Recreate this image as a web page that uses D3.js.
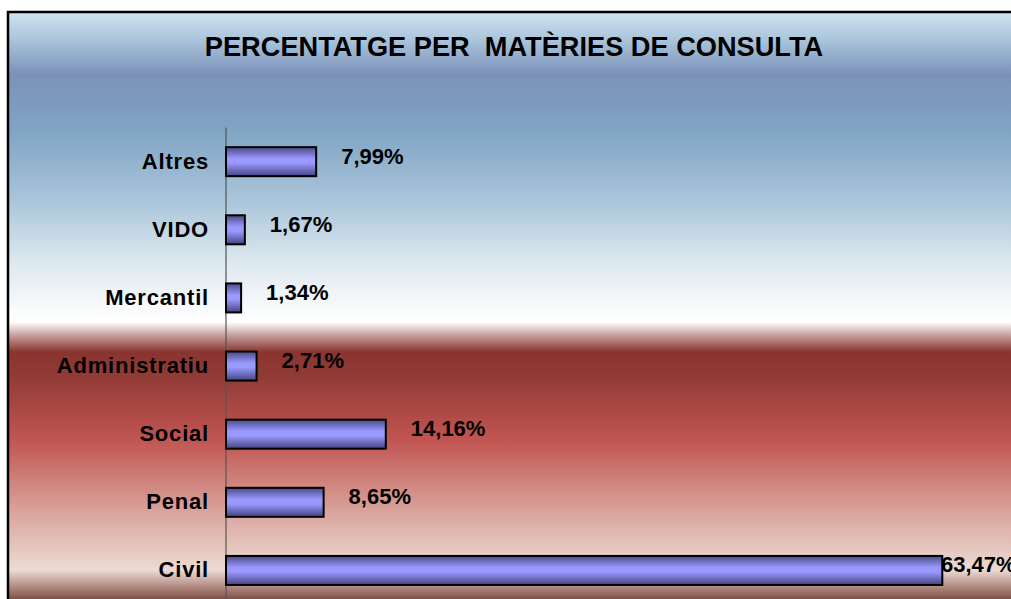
<!DOCTYPE html>
<html>
<head>
<meta charset="utf-8">
<script src="https://cdn.jsdelivr.net/npm/d3@7"></script>
<style>
  html, body { margin: 0; background: #fff; overflow: hidden; }
  svg { display: block; font-family: "Liberation Sans", Arial, sans-serif; }
</style>
</head>
<body>
<svg id="chart"></svg>
<script>
// Chart data (top to bottom as drawn)
const categories = ["Altres", "VIDO", "Mercantil", "Administratiu", "Social", "Penal", "Civil"];
const percentages = [7.99, 1.67, 1.34, 2.71, 14.16, 8.65, 63.47];
const valueLabels = ["7,99%", "1,67%", "1,34%", "2,71%", "14,16%", "8,65%", "63,47%"];
const xDomain = [0, 70];
const title = "PERCENTATGE PER  MATÈRIES DE CONSULTA";

const width = 1011;
const height = 599;

const svg = d3.select("#chart")
  .attr("width", width)
  .attr("height", height);

const defs = svg.append("defs");

// Background gradient of the chart area (blue sky to red)
const bg = defs.append("linearGradient")
  .attr("id", "bg")
  .attr("gradientUnits", "userSpaceOnUse")
  .attr("x1", 0).attr("y1", 12)
  .attr("x2", 0).attr("y2", 600);
[
  [12, "#d2e3ef"], [40, "#a9c4db"], [75, "#7b91b9"], [130, "#80a4c4"],
  [200, "#a9c5da"], [260, "#dbe7ef"], [305, "#f7f9fb"], [322, "#ffffff"],
  [336, "#c29a98"], [352, "#8a3430"], [375, "#913b36"], [440, "#c15551"],
  [510, "#d9a29a"], [570, "#ecdbd4"], [586, "#b58e86"], [600, "#7a4a42"]
].forEach(([y, c]) => {
  bg.append("stop").attr("offset", (y - 12) / 588).attr("stop-color", c);
});

// Bar fill: dark edges, light centre
const barGrad = defs.append("linearGradient")
  .attr("id", "bar")
  .attr("x1", 0).attr("y1", 0).attr("x2", 0).attr("y2", 1);
barGrad.append("stop").attr("offset", 0).attr("stop-color", "#4a4a86");
barGrad.append("stop").attr("offset", 0.4).attr("stop-color", "#9999ff");
barGrad.append("stop").attr("offset", 0.55).attr("stop-color", "#9999ff");
barGrad.append("stop").attr("offset", 1).attr("stop-color", "#444480");

// Chart area background, frame runs off the right and bottom edge
svg.append("rect")
  .attr("x", 8).attr("y", 12)
  .attr("width", width - 8).attr("height", height - 12)
  .attr("fill", "url(#bg)");

svg.append("path")
  .attr("d", `M8,${height}V12H${width}`)
  .attr("fill", "none")
  .attr("stroke", "#000")
  .attr("stroke-width", 2.5);

// Title
svg.append("text")
  .attr("x", 514)
  .attr("y", 56)
  .attr("text-anchor", "middle")
  .style("font-size", "27.2px")
  .style("font-weight", "bold")
  .style("white-space", "pre")
  .text(title);

// Scales
const x = d3.scaleLinear().domain(xDomain).range([226, 1016]);
const y = d3.scaleBand()
  .domain(categories)
  .range([127.6, 127.6 + 68.13 * categories.length])
  .paddingInner(0.574)
  .paddingOuter(0.287);

// Vertical axis line
svg.append("line")
  .attr("x1", x(0)).attr("x2", x(0))
  .attr("y1", y.range()[0]).attr("y2", height)
  .attr("stroke", "#555")
  .attr("stroke-width", 1.2);

// Category labels
svg.append("g")
  .selectAll("text")
  .data(categories)
  .join("text")
  .attr("x", 209)
  .attr("y", (d) => y(d) + y.bandwidth() / 2 + 7)
  .attr("text-anchor", "end")
  .style("font-size", "22px")
  .style("font-weight", "bold")
  .style("letter-spacing", "0.8px")
  .text((d) => d);

// Bars
svg.append("g")
  .selectAll("rect")
  .data(categories)
  .join("rect")
  .attr("x", x(0))
  .attr("y", (d) => y(d))
  .attr("width", (d, i) => x(percentages[i]) - x(0))
  .attr("height", y.bandwidth())
  .attr("fill", "url(#bar)")
  .attr("stroke", "#000")
  .attr("stroke-width", 2);

// Value labels
svg.append("g")
  .selectAll("text")
  .data(categories)
  .join("text")
  .attr("x", (d, i) => Math.min(x(percentages[i]) + 25, 941))
  .attr("y", (d) => y(d) + y.bandwidth() / 2 + 2)
  .style("font-size", "22px")
  .style("font-weight", "bold")
  .text((d, i) => valueLabels[i]);
</script>
</body>
</html>
